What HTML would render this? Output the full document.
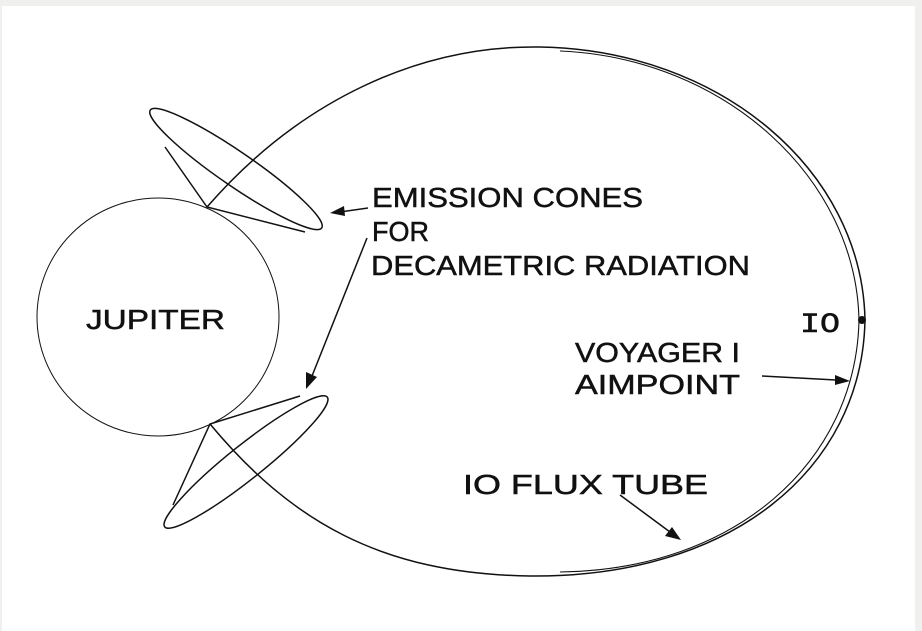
<!DOCTYPE html>
<html><head><meta charset="utf-8"><style>
html,body{margin:0;padding:0;background:#f0f0ee;}
svg{display:block;}
text{font-family:"Liberation Sans",sans-serif;fill:#111;stroke:#111;stroke-width:0.5;font-size:28px;}
</style></head><body>
<svg width="922" height="631" viewBox="0 0 922 631">
<rect x="2" y="6" width="913" height="625" fill="#fff"/>
<g fill="none" stroke="#111" stroke-width="1.5">
<ellipse cx="158" cy="317" rx="121" ry="119" stroke-width="1"/>
<path d="M207,207 C300,100 420,45 540,47 C720,50 862,170 865,320 C862,470 730,578 530,576 C380,574 290,520 210,424"/>
<path d="M560,51 C725,58 856,178 859,320 C856,462 735,570 560,572" stroke-width="1.1"/>
<ellipse cx="236" cy="169" rx="104" ry="17" transform="rotate(34.5 236 169)"/>
<path d="M165,147 L207,207 L305,232"/>
<ellipse cx="246" cy="462" rx="104" ry="17" transform="rotate(-38.6 246 462)"/>
<path d="M173,505 L210,424 L300,396"/>
<path d="M368,208 L340,212"/>
<path d="M367,238 L312,376"/>
<path d="M762,376 L836,380"/>
<path d="M620,495 L670,532"/>
</g>
<g fill="#111">
<polygon points="330,213 344,206 345,216"/>
<polygon points="306,389 306,372 317,377"/>
<polygon points="850,381 835,375 835,385"/>
<polygon points="681,540 665,536 672,527"/>
<circle cx="862" cy="320" r="4"/>
</g>
<text x="372" y="207" textLength="271" lengthAdjust="spacingAndGlyphs">EMISSION CONES</text>
<text x="372" y="241" textLength="57" lengthAdjust="spacingAndGlyphs">FOR</text>
<text x="371" y="275" textLength="379" lengthAdjust="spacingAndGlyphs">DECAMETRIC RADIATION</text>
<text x="86" y="329" textLength="139" lengthAdjust="spacingAndGlyphs">JUPITER</text>
<text x="800" y="332" textLength="40" lengthAdjust="spacingAndGlyphs" style="font-family:'Liberation Mono',monospace">IO</text>
<text x="575" y="362" textLength="165" lengthAdjust="spacingAndGlyphs">VOYAGER I</text>
<text x="575" y="394" textLength="165" lengthAdjust="spacingAndGlyphs">AIMPOINT</text>
<text x="463" y="494" textLength="245" lengthAdjust="spacingAndGlyphs">IO FLUX TUBE</text>
</svg>
</body></html>
